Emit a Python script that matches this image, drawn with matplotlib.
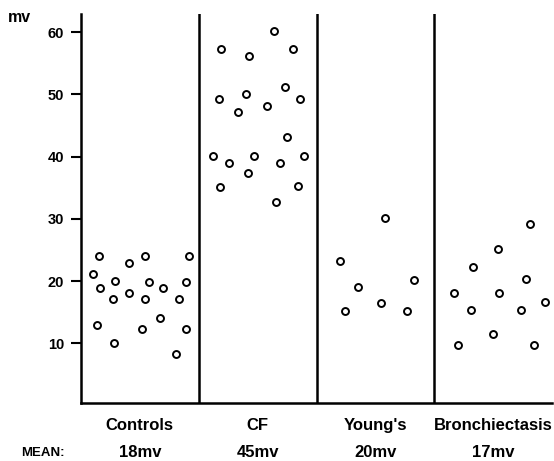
import matplotlib.pyplot as plt
import matplotlib.transforms as mtransforms

plt.rcParams['font.family'] = ['Liberation Sans', 'DejaVu Sans']
plt.rcParams['font.weight'] = 'bold'

# groups and their mean values
groups = ['Controls', 'CF', "Young's", 'Bronchiectasis']
means = [18, 45, 20, 17]

# potential difference (mv) per subject, with horizontal place inside the group column (0..1)
controls_mv = [21.1, 24.0, 18.9, 13.0, 17.1, 20.0, 10.1, 22.9, 18.0, 24.0,
               19.9, 17.1, 12.3, 18.9, 14.1, 17.1, 8.2, 19.9, 12.3, 24.0]
controls_pos = [0.10, 0.15, 0.16, 0.14, 0.27, 0.29, 0.28, 0.41, 0.41, 0.54,
                0.58, 0.54, 0.52, 0.70, 0.67, 0.83, 0.81, 0.89, 0.89, 0.92]

cf_mv = [60.1, 57.2, 56.1, 57.3, 49.2, 50.0, 47.2, 48.1, 51.1, 49.2,
         43.1, 40.1, 39.0, 40.1, 39.0, 40.1, 37.3, 35.1, 35.2, 32.7]
cf_pos = [0.64, 0.19, 0.43, 0.80, 0.17, 0.40, 0.33, 0.58, 0.73, 0.86,
          0.75, 0.12, 0.26, 0.47, 0.69, 0.89, 0.42, 0.18, 0.84, 0.66]

youngs_mv = [30.1, 23.2, 19.1, 20.2, 15.2, 16.4, 15.2]
youngs_pos = [0.58, 0.20, 0.35, 0.83, 0.24, 0.55, 0.77]

bronch_mv = [29.1, 25.2, 22.3, 20.3, 18.1, 18.1, 16.6, 15.3, 15.4, 11.5, 9.7, 9.7]
bronch_pos = [0.81, 0.54, 0.33, 0.78, 0.17, 0.55, 0.94, 0.31, 0.74, 0.50, 0.20, 0.85]

values = [controls_mv, cf_mv, youngs_mv, bronch_mv]
positions = [controls_pos, cf_pos, youngs_pos, bronch_pos]

fig = plt.figure(figsize=(5.54, 4.61), dpi=100)
ax = fig.add_axes([81 / 554, 58 / 461, 471 / 554, 389 / 461])

for i in range(len(groups)):
    xs = [i + p for p in positions[i]]
    ax.plot(xs, values[i], 'o', markersize=5, markerfacecolor='white',
            markeredgecolor='black', markeredgewidth=1.4, linestyle='none')

# column dividers
for i in range(1, len(groups)):
    ax.axvline(i, color='black', linewidth=1.8)

ax.set_xlim(0, 4)
ax.set_ylim(0.4, 62.9)
ax.spines['top'].set_visible(False)
ax.spines['right'].set_visible(False)
ax.spines['left'].set_linewidth(1.8)
ax.spines['bottom'].set_linewidth(1.8)

ax.set_yticks([10, 20, 30, 40, 50, 60])
ax.tick_params(axis='y', length=7, width=1.5, pad=5, labelsize=10.5)
ax.set_xticks([i + 0.5 for i in range(len(groups))])
ax.set_xticklabels(groups, fontsize=12)
ax.tick_params(axis='x', length=0, pad=11)

trans = mtransforms.blended_transform_factory(ax.transData, ax.transAxes)
for i, m in enumerate(means):
    ax.text(i + 0.5, -0.128, f'{m}mv', transform=trans, ha='center',
            va='center', fontsize=12)

fig.text(43 / 554, 1 - 453 / 461, 'MEAN:', ha='center', va='center', fontsize=9.5)
fig.text(8 / 554, 1 - 18 / 461, 'mv', ha='left', va='center', fontsize=11.5)

fig.savefig('out.png', dpi=100)
